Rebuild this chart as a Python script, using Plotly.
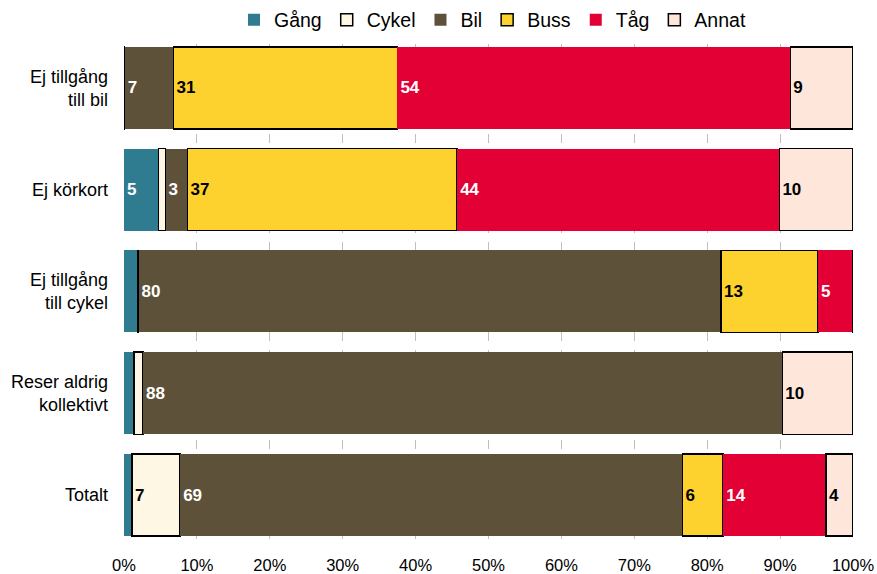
import plotly.graph_objects as go

categories = ["Ej tillgång<br>till bil", "Ej körkort", "Ej tillgång<br>till cykel",
              "Reser aldrig<br>kollektivt", "Totalt"]
series_names = ["Gång", "Cykel", "Bil", "Buss", "Tåg", "Annat"]
gang = [0, 4.7, 1.9, 1.4, 1.1]
cykel = [0.1, 1.0, 0.1, 1.2, 6.6]
bil = [6.7, 3.0, 79.9, 87.7, 68.9]
buss = [30.7, 37.0, 13.3, 0, 5.6]
tag = [53.9, 44.2, 4.7, 0, 14.1]
annat = [8.6, 10.1, 0.1, 9.7, 3.7]
values = [gang, cykel, bil, buss, tag, annat]

colors = ["#2F7B8F", "#FDF7E4", "#5E513A", "#FDD22F", "#E30034", "#FEE6DA"]
text_colors = ["white", "black", "white", "black", "white", "black"]
outlined = [False, True, False, True, False, True]

fig = go.Figure()
for name, vals, col, tcol, outl in zip(series_names, values, colors, text_colors, outlined):
    fig.add_trace(go.Bar(
        y=categories, x=vals, name=name, orientation="h",
        marker=dict(color=col, line=dict(color="black" if outl else col, width=1.5 if outl else 0)),
        text=[f"{round(v)}" if v >= 2.5 else "" for v in vals],
        textposition="inside", insidetextanchor="start",
        textfont=dict(color=tcol, size=17, family="Liberation Sans"),
        texttemplate="<b>%{text}</b>",
        cliponaxis=False,
    ))

fig.update_layout(
    barmode="stack",
    bargap=0.194,
    width=877, height=574,
    margin=dict(l=124, r=24, t=44, b=33, autoexpand=False),
    paper_bgcolor="white", plot_bgcolor="white",
    font=dict(family="Liberation Sans", size=16, color="black"),
    legend=dict(orientation="h", x=0.5055, xanchor="center", yref="container", y=0.965,
                yanchor="middle", font=dict(size=19.5), traceorder="normal"),
    uniformtext=dict(mode=False),
    showlegend=True,
)
fig.update_xaxes(range=[0, 100], tickvals=list(range(0, 101, 10)),
                 ticktext=[f"{v}%" for v in range(0, 101, 10)],
                 showgrid=True, gridcolor="#BFBFBF", griddash="dash", gridwidth=1,
                 zeroline=False, showline=False, tickfont=dict(size=16.5),
                 ticklabelstandoff=12, automargin=False)
fig.update_yaxes(range=[4.452, -0.432], showgrid=False, showline=False, ticks="",
                 ticklabelstandoff=15, tickfont=dict(size=18), automargin=False)

fig.write_html("out.html", config={"displayModeBar": False},
               post_script="document.body.style.margin='0';")
